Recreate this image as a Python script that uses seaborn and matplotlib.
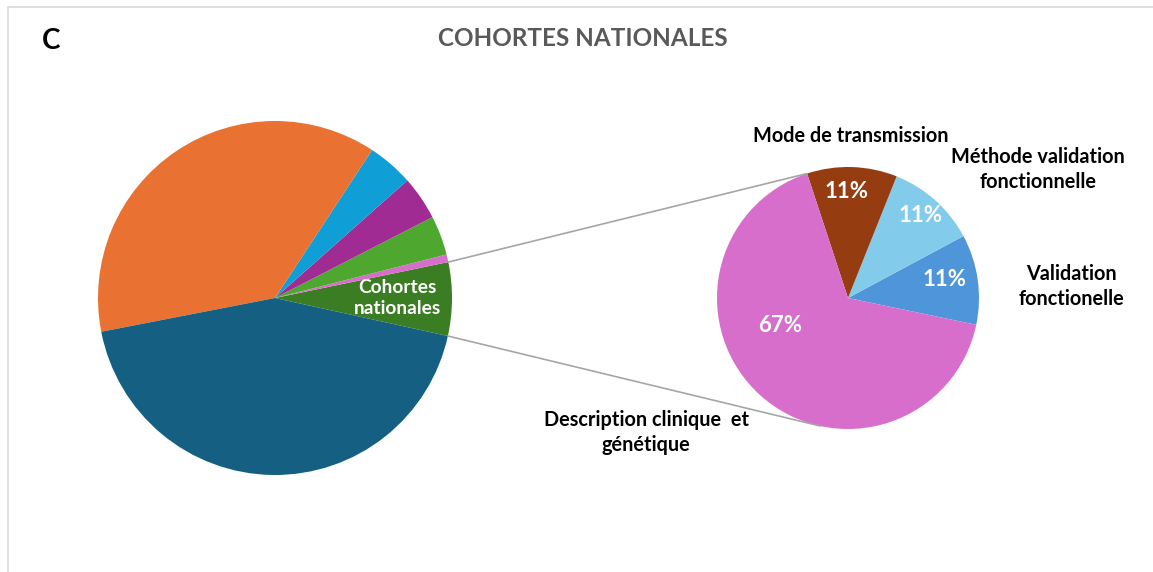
import numpy as np
import matplotlib
matplotlib.use("Agg")
import matplotlib.pyplot as plt
import seaborn as sns

# ---- data ----
main_labels = ["Cohortes nationales", "Autre 1", "Autre 2", "Autre 3", "Autre 4", "Autre 5", "Autre 6"]
main_values = [6.7, 0.7, 3.6, 4.0, 4.2, 37.3, 43.5]
main_colors = ["#3B7D23", "#D86ECC", "#4EA72E", "#A02B93", "#0F9ED5", "#E97132", "#156082"]

sub_labels = ["Validation\nfonctionelle", "Méthode validation\nfonctionnelle",
              "Mode de transmission", "Description clinique  et\ngénétique"]
sub_values = [1, 1, 1, 6]
sub_colors = ["#4E95D9", "#83CBEB", "#953D10", "#D86ECC"]

title = "COHORTES NATIONALES"
panel = "C"

sns.set_theme(style="white")
plt.rcParams["font.family"] = ["Lato", "DejaVu Sans"]

W, H = 1153, 572
fig = plt.figure(figsize=(W / 100, H / 100), dpi=100)
ax = fig.add_axes([0, 0, 1, 1])
ax.set_xlim(0, W)
ax.set_ylim(0, H)
ax.set_aspect("equal")
ax.axis("off")

# frame
ax.plot([8, 8], [-5, H - 7], color="#D9D9D9", lw=1.2)
ax.plot([8, W + 5], [H - 7, H - 7], color="#D9D9D9", lw=1.2)

c1, r1 = (275, 274), 177
c2, r2 = (848, 274), 131

w1, _ = ax.pie(main_values, colors=main_colors, startangle=-12.4, counterclock=True,
               center=c1, radius=r1, wedgeprops=dict(linewidth=0))
w2, _ = ax.pie(sub_values, colors=sub_colors, startangle=-11.8, counterclock=True,
               center=c2, radius=r2, wedgeprops=dict(linewidth=0))
ax.set_xlim(0, W)
ax.set_ylim(0, H)

def pol(c, r, ang, f=1.0):
    a = np.deg2rad(ang)
    return c[0] + r * f * np.cos(a), c[1] + r * f * np.sin(a)

# connector lines
g = w1[0]
p1 = pol(c1, r1, g.theta2)
p2 = pol(c1, r1, g.theta1)
q1 = pol(c2, r2, w2[2].theta2)
q2 = pol(c2, r2, 257.8)
ax.plot([p1[0], q1[0]], [p1[1], q1[1]], color="#A6A6A6", lw=1.2)
ax.plot([p2[0], q2[0]], [p2[1], q2[1]], color="#A6A6A6", lw=1.2)

# label inside main slice
x, y = pol(c1, r1, 0, 0.69)
ax.text(x, y, "Cohortes\nnationales", color="white", fontsize=13.8, fontweight="bold",
        ha="center", va="center", linespacing=1.25)

# percentage labels
total = sum(sub_values)
pct_pos = [(11, 0.75), (48.7, 0.84), (91, 0.81), (202, 0.56)]
for v, (ang, f) in zip(sub_values, pct_pos):
    x, y = pol(c2, r2, ang, f)
    ax.text(x, y, f"{round(100 * v / total)}%", color="white", fontsize=16,
            fontweight="bold", ha="center", va="center")

# category labels
lab_pos = [(3, 1.71), (34, 1.75), (89, 1.24), (213.6, 1.85)]
for lab, (ang, f) in zip(sub_labels, lab_pos):
    x, y = pol(c2, r2, ang, f)
    ax.text(x, y, lab, color="black", fontsize=14.3, fontweight="bold",
            ha="center", va="center", linespacing=1.3)

ax.text(583, H - 39, title, color="#595959", fontsize=17.5, fontweight="bold",
        ha="center", va="center")
ax.text(51, H - 41, panel, color="black", fontsize=20, fontweight="bold",
        ha="center", va="center")

fig.savefig("out.png", dpi=100)
